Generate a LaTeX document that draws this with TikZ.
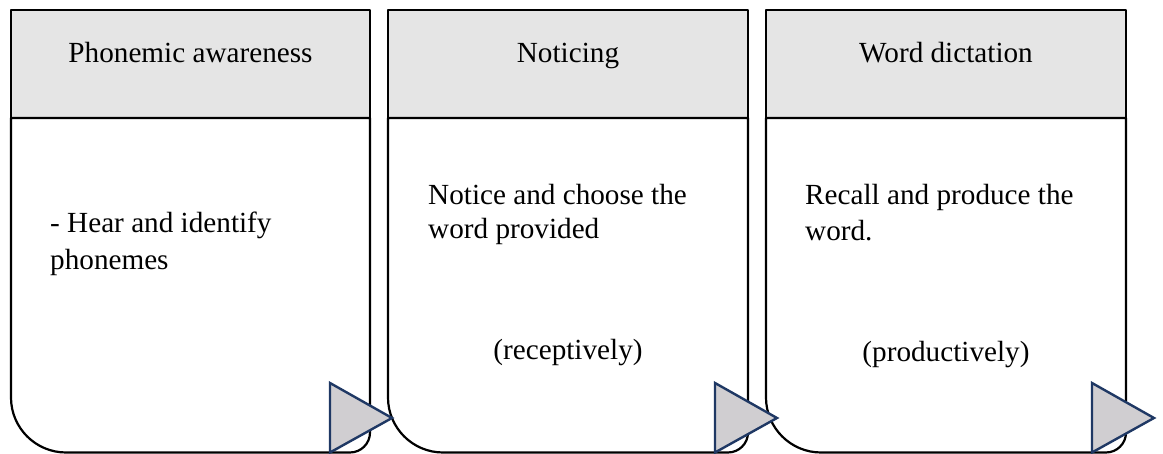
\documentclass[tikz,border=0pt]{standalone}
\usepackage{fontspec}
\setmainfont{Liberation Serif}
\definecolor{hdrgray}{HTML}{E5E5E5}
\definecolor{trifill}{HTML}{D0CED1}
\definecolor{tristroke}{HTML}{1F3864}
\begin{document}
\begin{tikzpicture}[x=1pt,y=1pt,
  boxline/.style={draw=black,line width=2.2pt,line join=round},
  hdrbox/.style={boxline,fill=hdrgray},
  tri/.style={draw=tristroke,fill=trifill,line width=2.4pt,line join=miter},
  txt/.style={inner sep=0pt,anchor=base,font=\fontsize{29.2}{37}\selectfont},
  ltxt/.style={txt,anchor=base west}]
\useasboundingbox (0,0) rectangle (1163,454);
% boxes: left/right edges
\foreach \L/\R in {11/370, 388/748, 766/1126}{
  \filldraw[hdrbox] (\L,444) rectangle (\R,336);
  \draw[boxline] (\L,336) -- (\R,336) -- (\R,21.5)
     arc[start angle=0,end angle=-90,radius=20] -- ({\L+55},1.5)
     arc[start angle=-90,end angle=-180,radius=55] -- cycle;
}
% headers
\node[txt] (h1) at (190.5,391) {Phonemic awareness};
\node[txt] (h2) at (568,391) {Noticing};
\node[txt] (h3) at (946,391) {Word dictation};
% body texts
\node[ltxt] (b1a) at (50,221) {- Hear and identify};
\node[ltxt] (b1b) at (50,184) {phonemes};
\node[ltxt] (b2a) at (428,249) {Notice and choose the};
\node[ltxt] (b2b) at (428,215) {word provided};
\node[txt] (b2c) at (568,94) {(receptively)};
\node[ltxt] (b3a) at (805,249) {Recall and produce the};
\node[ltxt] (b3b) at (805,213) {word.};
\node[txt] (b3c) at (946,92) {(productively)};
% arrows (triangles)
\foreach \X in {330,715,1092}{
  \draw[tri] (\X,71) -- ({\X+62},36) -- (\X,1.5) -- cycle;
}
\end{tikzpicture}
\end{document}
